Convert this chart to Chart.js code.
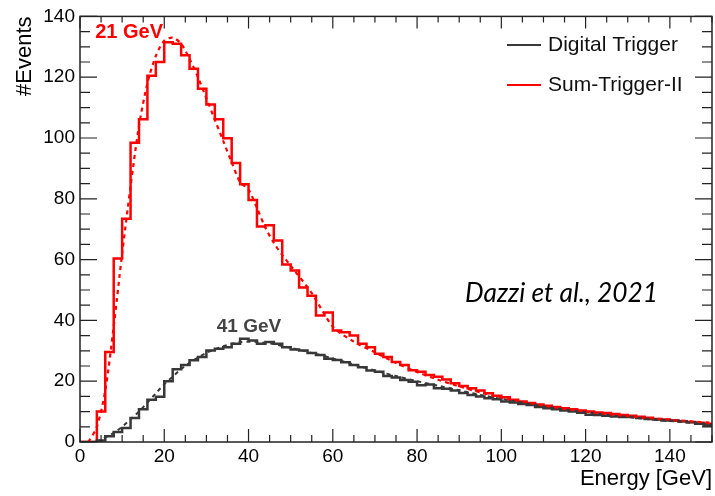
<!DOCTYPE html>
<html>
<head>
<meta charset="utf-8">
<script src="https://cdn.jsdelivr.net/npm/chart.js@4/dist/chart.umd.min.js"></script>
<style>
html,body{margin:0;padding:0;background:#fff;}
#wrap{width:715px;height:496px;position:relative;}
</style>
</head>
<body>
<div id="wrap"><canvas id="c" width="715" height="496"></canvas></div>
<script>
// ---- data ----
const binWidth = 2; // GeV
const binStarts = [];
for (let e = 0; e < 150; e += binWidth) binStarts.push(e);

const sumTrigger = [0,0,10,29.6,60.4,73.4,98.4,106.2,120.5,125,131.5,131,127.2,122.8,116.2,111,106.2,99.9,91.8,84.8,
  79.6,70.9,71.3,66.3,58.4,56.4,50.8,48.1,41.6,42.6,36.7,36.1,35,32.3,31.2,29,28,26.3,25.3,23.6,
  23.1,22,21.5,20.6,19.3,18.4,17.7,16.9,16,15.2,14.7,13.9,13.3,12.8,12.3,11.9,11.5,11.1,10.8,10.4,
  10.0,9.7,9.5,9.2,8.9,8.6,8.3,8.0,7.6,7.4,7.1,6.8,6.6,6.3,6.0];

const digitalTrigger = [0,0,0.5,1.9,3.3,4.6,7.9,10.8,13.9,14.9,20,23.9,25.3,26.9,28,30.1,30.7,31.2,32.3,34,
  33.4,32.3,32.9,32.3,31.2,30.4,30.1,29.3,28.6,27.4,27,26.2,25.3,24.6,23.5,23.1,21.7,21.2,20.4,19.8,
  18.7,18.9,17.7,17.5,16.9,16.1,15.5,15.0,14.4,14.1,13.3,13.0,12.5,12.2,11.5,11.1,10.8,10.4,10.0,9.6,
  9.0,8.9,8.6,8.4,8.2,8.2,7.9,7.6,7.4,7.1,7.1,6.8,6.5,6.0,5.4];

const sumFitE   = [2,4,6,8,10,12,14,16,18,20,22,24,26,28,30,32,34,36,38,40,42,44,46,48,50,55,60,65,70,75,80,85,90,95,100,110,120,130,140,150];
const sumFitV   = [0,5,17,38,62,84,104,118,127,132,133,131,126,120,113,106,99,92,85.5,83,77,70.5,65.5,61.5,58,49,38,33,29.5,26,23,20.5,18.3,16.3,14.6,12,10,8.5,7.3,6.3];

const digFitE   = [4,6,8,10,12,14,16,18,20,22,24,26,28,30,32,34,36,38,40,42,44,46,48,50,55,60,65,70,75,80,85,90,95,100,110,120,130,140,150];
const digFitV   = [0,1.5,3,5,7.5,10,13,16,19,21.5,24,26,27.8,29.3,30.5,31.5,32.3,32.8,33,32.9,32.6,32.2,31.6,31,29.3,27.5,25.5,23.5,21.7,20,18.5,17,15.5,14.2,11.8,9.8,8.2,6.9,5.8];

const xTickLabels = [0,20,40,60,80,100,120,140];
const yTickLabels = [0,20,40,60,80,100,120,140];

const seriesNames = ['Digital Trigger','Sum-Trigger-II'];
const peakLabels = ['21 GeV','41 GeV'];
const citation = 'Dazzi et al., 2021';

// ---- build ----
const RED = '#ff0000', GRAY = '#383838';
function histPts(vals){
  const p = binStarts.map((e,i)=>({x:e,y:vals[i]}));
  p.push({x:150,y:vals[vals.length-1]});
  return p;
}
function pts(xs,ys){ return xs.map((x,i)=>({x:x,y:ys[i]})); }

const FONT = '"Liberation Sans", Arial, Helvetica, sans-serif';

const decor = {
  id:'decor',
  afterDraw(chart){
    const ctx = chart.ctx, a = chart.chartArea;
    const xs = chart.scales.x, ys = chart.scales.y;
    ctx.save();
    ctx.strokeStyle = '#222';
    ctx.lineWidth = 1.5;
    ctx.strokeRect(a.left, a.top, a.right-a.left, a.bottom-a.top);
    ctx.lineWidth = 1.2;
    ctx.beginPath();
    for (let v=0; v<=150; v+=5){
      const px = xs.getPixelForValue(v);
      const major = v%20===0;
      const lb = major?13:7, lt = major?12:6;
      ctx.moveTo(px,a.bottom); ctx.lineTo(px,a.bottom-lb);
      ctx.moveTo(px,a.top); ctx.lineTo(px,a.top+lt);
    }
    for (let v=0; v<=140; v+=5){
      const py = ys.getPixelForValue(v);
      const major = v%20===0;
      const l = major?17:10, r = major?17:10;
      ctx.moveTo(a.left,py); ctx.lineTo(a.left+l,py);
      ctx.moveTo(a.right,py); ctx.lineTo(a.right-r,py);
    }
    ctx.stroke();

    // axis titles
    ctx.fillStyle = '#000';
    ctx.font = '22px '+FONT;
    ctx.textAlign='right'; ctx.textBaseline='middle';
    ctx.fillText('Energy [GeV]', a.right, 479);
    ctx.save();
    ctx.translate(25, a.top);
    ctx.rotate(-Math.PI/2);
    ctx.textAlign='right'; ctx.textBaseline='middle';
    ctx.fillText('#Events', 0, 0);
    ctx.restore();

    // legend
    ctx.font = '21px '+FONT;
    ctx.textAlign='left'; ctx.textBaseline='middle';
    const leg = [[seriesNames[0],GRAY,45],[seriesNames[1],RED,85]];
    leg.forEach(([t,c,y])=>{
      ctx.strokeStyle=c; ctx.lineWidth=2;
      ctx.beginPath(); ctx.moveTo(507,y); ctx.lineTo(541,y); ctx.stroke();
      ctx.fillStyle='#111'; ctx.fillText(t,548,y);
    });

    // peak labels
    ctx.font = 'bold 20px '+FONT;
    ctx.fillStyle = RED; ctx.textAlign='left';
    ctx.fillText(peakLabels[0], xs.getPixelForValue(3.6), ys.getPixelForValue(134.6));
    ctx.font = 'bold 19px '+FONT;
    ctx.fillStyle = '#444'; ctx.textAlign='center';
    ctx.fillText(peakLabels[1], xs.getPixelForValue(40.1), ys.getPixelForValue(38));

    // citation (sized to the reference width)
    let fs = 24;
    ctx.font = 'italic '+fs+'px Lato, "Open Sans", sans-serif';
    const w = ctx.measureText(citation).width;
    fs = fs*193/w;
    ctx.font = 'italic '+fs.toFixed(1)+'px Lato, "Open Sans", sans-serif';
    ctx.fillStyle='#000'; ctx.textAlign='left';
    ctx.fillText(citation, xs.getPixelForValue(91.4), ys.getPixelForValue(48.7));
    ctx.restore();
  }
};

new Chart(document.getElementById('c'), {
  type:'line',
  data:{
    datasets:[
      {label:seriesNames[1]+' fit', data:pts(sumFitE,sumFitV), borderColor:RED, borderWidth:2.2, borderDash:[4,4], pointRadius:0, tension:0.3, fill:false},
      {label:seriesNames[0]+' fit', data:pts(digFitE,digFitV), borderColor:GRAY, borderWidth:2, borderDash:[4,4], pointRadius:0, tension:0.3, fill:false},
      {label:seriesNames[0], data:histPts(digitalTrigger), borderColor:GRAY, borderWidth:2.5, stepped:'before', pointRadius:0, fill:false},
      {label:seriesNames[1], data:histPts(sumTrigger), borderColor:RED, borderWidth:2.5, stepped:'before', pointRadius:0, fill:false}
    ]
  },
  options:{
    responsive:false, animation:false,
    layout:{padding:{top:13,right:3,left:0,bottom:0}},
    plugins:{legend:{display:false}, tooltip:{enabled:false}},
    scales:{
      x:{type:'linear', min:0, max:150,
        grid:{display:false, drawTicks:false}, border:{display:false},
        afterBuildTicks(s){ s.ticks = xTickLabels.map(v=>({value:v})); },
        afterFit(s){ s.height = 54; },
        ticks:{font:{family:FONT,size:19}, color:'#000', padding:3, maxRotation:0, autoSkip:false}
      },
      y:{type:'linear', min:0, max:140,
        grid:{display:false, drawTicks:false}, border:{display:false},
        afterBuildTicks(s){ s.ticks = yTickLabels.map(v=>({value:v})); },
        afterFit(s){ s.width = 80; },
        ticks:{font:{family:FONT,size:19}, color:'#000', padding:5}
      }
    }
  },
  plugins:[decor]
});
</script>
</body>
</html>
